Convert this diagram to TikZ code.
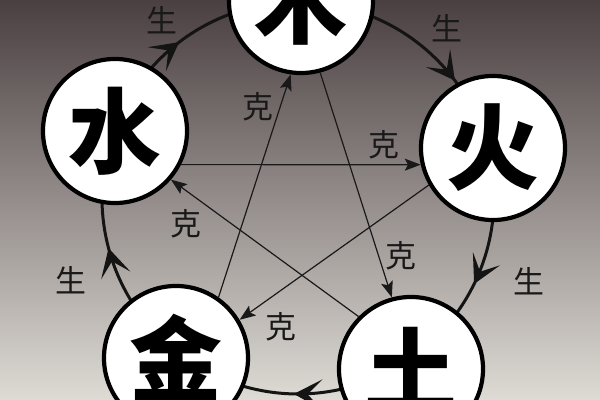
\documentclass[tikz,border=0pt]{standalone}
\usepackage{fontspec}
\newfontfamily\cjk{Noto Sans CJK SC}
\usetikzlibrary{arrows.meta,decorations.markings,calc}
\begin{document}
\begin{tikzpicture}[x=0.025cm,y=0.025cm,
  element/.style={circle,draw=black,fill=white,line width=1.05mm,minimum size=3.6cm,inner sep=0pt,
    font=\cjk\bfseries\fontsize{66}{66}\selectfont},
  lbl/.style={font=\cjk\fontsize{22}{22}\selectfont,text=black!90,inner sep=0pt},
  sheng/.style={line width=0.75mm,draw=black!92,postaction={decorate},
    decoration={markings,mark=at position #1 with {\arrow{Stealth[length=7mm,width=7.5mm,inset=3.6mm]}}}},
  ke/.style={line width=0.3mm,draw=black!90,-{Stealth[length=4mm,width=3mm,inset=0.8mm]}}
]
\path[use as bounding box] (0,0) rectangle (600,400);
\clip (0,0) rectangle (600,400);
\shade[top color={rgb,255:red,74;green,63;blue,65},middle color={rgb,255:red,146;green,138;blue,130},bottom color={rgb,255:red,222;green,219;blue,213}] (0,0) rectangle (600,400);

\coordinate (C) at (298,202);

% sheng cycle (arcs of one big circle, drawn under the element discs)
\draw[sheng=0.46] ($(C)+(159.9:196)$) arc[start angle=159.9,end angle=89.1,radius=196];
\draw[sheng=0.70] ($(C)+(89.1:196)$) arc[start angle=89.1,end angle=14.4,radius=196];
\draw[sheng=0.57] ($(C)+(14.4:196)$) arc[start angle=14.4,end angle=-56.5,radius=196];
\draw[sheng=0.49] ($(C)+(-56.5:196)$) arc[start angle=-56.5,end angle=-127.3,radius=196];
\draw[sheng=0.52] ($(C)+(-127.3:196)$) arc[start angle=-127.3,end angle=-200.1,radius=196];

\node[element] (mu) at (301,399) {木};
\node[element] (huo) at (493,252) {火};
\node[element] (tu) at (411,31) {土};
\node[element] (jin) at (176,42) {金};
\node[element] (shui) at (115,269) {水};

% ke cycle
\draw[ke] (shui.-27) -- (huo.193);
\draw[ke] (huo.210) -- (jin.31);
\draw[ke] (jin.55) -- (mu.262);
\draw[ke] (mu.285) -- (tu.105);
\draw[ke] (tu.135) -- (shui.-41);

% labels
\node[lbl] (s1) at (162,380) {生};
\node[lbl] (s2) at (447,372) {生};
\node[lbl] (s3) at (529,119) {生};
\node[lbl] (s4) at (71,120) {生};
\node[lbl] (k1) at (258,293) {克};
\node[lbl] (k2) at (384,255) {克};
\node[lbl] (k3) at (186,176) {克};
\node[lbl] (k4) at (401,144) {克};
\node[lbl] (k5) at (281,73) {克};
\end{tikzpicture}
\end{document}
